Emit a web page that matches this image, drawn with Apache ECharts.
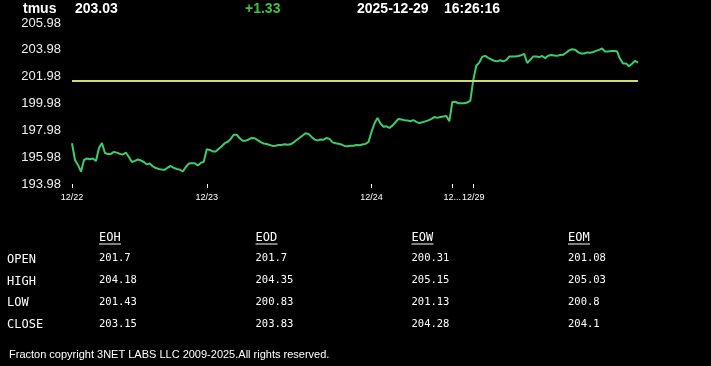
<!DOCTYPE html>
<html>
<head>
<meta charset="utf-8">
<script src="https://cdn.jsdelivr.net/npm/echarts@6/dist/echarts.min.js"></script>
<style>
  html, body { margin: 0; padding: 0; background: #000; }
  #chart { width: 711px; height: 366px; }
</style>
</head>
<body>
<div id="chart"></div>
<script>
// ---- header ----
const ticker = 'tmus';
const lastPrice = '203.03';
const change = '+1.33';
const quoteDate = '2025-12-29';
const quoteTime = '16:26:16';
const prevClose = 201.70;

// ---- axes ----
const yTickLabels = [193.98, 195.98, 197.98, 199.98, 201.98, 203.98, 205.98];
const dayLabels = ['12/22', '12/23', '12/24', '12/26', '12/29'];
const dayStarts = [0, 45, 100, 127, 134];

// ---- price series ----
const prices = [
  // 12/22
  197.02, 195.77, 195.40, 194.90, 195.77, 195.88, 195.82, 195.88, 195.70, 196.67,
  197.04, 196.29, 196.22, 196.22, 196.37, 196.32, 196.22, 196.18, 196.33, 195.99,
  195.62, 195.70, 195.81, 195.73, 195.62, 195.44, 195.51, 195.29, 195.17, 195.10,
  195.05, 195.05, 195.21, 195.32, 195.17, 195.10, 195.05, 194.91, 195.25, 195.50,
  195.53, 195.53, 195.36, 195.55, 195.64,
  // 12/23
  196.57, 196.52, 196.41, 196.41, 196.61, 196.79, 197.02, 197.13, 197.34, 197.65,
  197.65, 197.39, 197.21, 197.21, 197.30, 197.41, 197.39, 197.25, 197.10, 197.00,
  196.96, 196.89, 196.82, 196.83, 196.88, 196.89, 196.94, 196.90, 196.94, 197.08,
  197.26, 197.43, 197.59, 197.76, 197.71, 197.49, 197.29, 197.23, 197.30, 197.28,
  197.41, 197.34, 197.08, 197.02, 196.98, 196.92, 196.82, 196.79, 196.83, 196.83,
  196.89, 196.87, 196.93, 196.97, 197.11,
  // 12/24
  197.86, 198.49, 198.91, 198.49, 198.25, 198.28, 198.16, 198.33, 198.58, 198.83,
  198.79, 198.74, 198.72, 198.66, 198.74, 198.61, 198.52, 198.58, 198.65, 198.72,
  198.83, 198.97, 198.91, 198.97, 199.01, 199.05, 198.65,
  // 12/26
  200.10, 200.11, 200.00, 200.00, 200.00, 200.05, 200.20,
  // 12/29
  201.74, 202.79, 203.03, 203.46, 203.53, 203.38, 203.27, 203.16, 203.12, 203.20,
  203.12, 203.21, 203.48, 203.48, 203.48, 203.52, 203.58, 203.68, 203.00, 203.23,
  203.48, 203.48, 203.44, 203.52, 203.36, 203.54, 203.59, 203.56, 203.53, 203.59,
  203.61, 203.76, 203.94, 204.02, 203.99, 203.81, 203.70, 203.71, 203.79, 203.77,
  203.82, 203.90, 203.98, 204.08, 203.85, 203.85, 203.89, 203.89, 203.87, 203.31,
  202.96, 202.97, 202.75, 202.94, 203.16, 203.03
];

// ---- summary table ----
const tableColumns = ['EOH', 'EOD', 'EOW', 'EOM'];
const tableRows = ['OPEN', 'HIGH', 'LOW', 'CLOSE'];
const openVals  = ['201.7', '201.7', '200.31', '201.08'];
const highVals  = ['204.18', '204.35', '205.15', '205.03'];
const lowVals   = ['201.43', '200.83', '201.13', '200.8'];
const closeVals = ['203.15', '203.83', '204.28', '204.1'];
const footerText = 'Fracton copyright 3NET LABS LLC 2009-2025.All rights reserved.';

// ---- build ----
const categories = prices.map((_, i) => String(i));
const isDayStart = (idx) => dayStarts.indexOf(idx) >= 0;
function dayLabel(idx) {
  const k = dayStarts.indexOf(idx);
  if (k < 0) return '';
  const next = k + 1 < dayStarts.length ? dayStarts[k + 1] : Infinity;
  const lab = dayLabels[k];
  return (next - idx < 10) ? lab.slice(0, 2) + '...' : lab;
}

const chart = echarts.init(document.getElementById('chart'), null, { renderer: 'canvas' });

const WHITE = '#ffffff';
const mono = '"DejaVu Sans Mono", monospace';
const sans = '"Liberation Sans", Arial, sans-serif';
const graphics = [];

function txt(x, y, text, font, fill, align) {
  graphics.push({
    type: 'text', x: x, y: y, silent: true,
    style: { text: text, font: font, fill: fill || WHITE, align: align || 'left', verticalAlign: 'middle' }
  });
}

// header
txt(23, 9, ticker, 'bold 14px ' + sans);
txt(75, 9, lastPrice, 'bold 14px ' + sans);
txt(245, 9, change, 'bold 14px ' + sans, '#3cc33c');
txt(357, 9, quoteDate, 'bold 14px ' + sans);
txt(444, 9, quoteTime, 'bold 14px ' + sans);

// table
const colX = [99, 255.5, 411.5, 568];
const rowY = [258, 280.5, 302, 324];
const labelY = [260, 281.5, 303, 325];
const rowVals = [openVals, highVals, lowVals, closeVals];
tableColumns.forEach((c, j) => {
  txt(colX[j], 238, c, '12px ' + mono);
  graphics.push({
    type: 'line', silent: true,
    shape: { x1: colX[j], y1: 244, x2: colX[j] + 22, y2: 244 },
    style: { stroke: WHITE, lineWidth: 1 }
  });
});
tableRows.forEach((r, i) => {
  txt(7, labelY[i], r, '12px ' + mono);
  rowVals[i].forEach((v, j) => txt(colX[j], rowY[i], v, '10.5px ' + mono));
});

// footer
txt(9, 355, footerText, '11px ' + sans);

chart.setOption({
  backgroundColor: '#000000',
  animation: false,
  grid: { left: 72, right: 73, top: 23, bottom: 182, containLabel: false },
  xAxis: {
    type: 'category',
    data: categories,
    boundaryGap: false,
    axisLine: { show: false },
    axisTick: {
      show: true, length: 4,
      interval: (idx) => isDayStart(idx),
      lineStyle: { color: WHITE, width: 1 }
    },
    axisLabel: {
      interval: (idx) => isDayStart(idx),
      formatter: (val, idx) => dayLabel(idx),
      color: WHITE, fontSize: 9, fontFamily: sans, margin: 9,
      hideOverlap: false
    },
    splitLine: { show: false }
  },
  yAxis: {
    type: 'value',
    min: yTickLabels[0],
    max: yTickLabels[yTickLabels.length - 1],
    interval: yTickLabels[1] - yTickLabels[0],
    axisLine: { show: false },
    axisTick: { show: false },
    splitLine: { show: false },
    axisLabel: {
      color: '#f0f0f0', fontSize: 13, fontFamily: sans, margin: 11,
      formatter: (v) => Number(v).toFixed(2)
    }
  },
  series: [{
    type: 'line',
    data: prices,
    showSymbol: false,
    symbol: 'none',
    smooth: false,
    lineStyle: { color: '#3dcc6a', width: 2 },
    markLine: {
      silent: true,
      symbol: 'none',
      label: { show: false },
      lineStyle: { color: '#cfdc6c', width: 2, type: 'solid' },
      data: [{ yAxis: prevClose }]
    },
    z: 3
  }],
  graphic: graphics
});
</script>
</body>
</html>
